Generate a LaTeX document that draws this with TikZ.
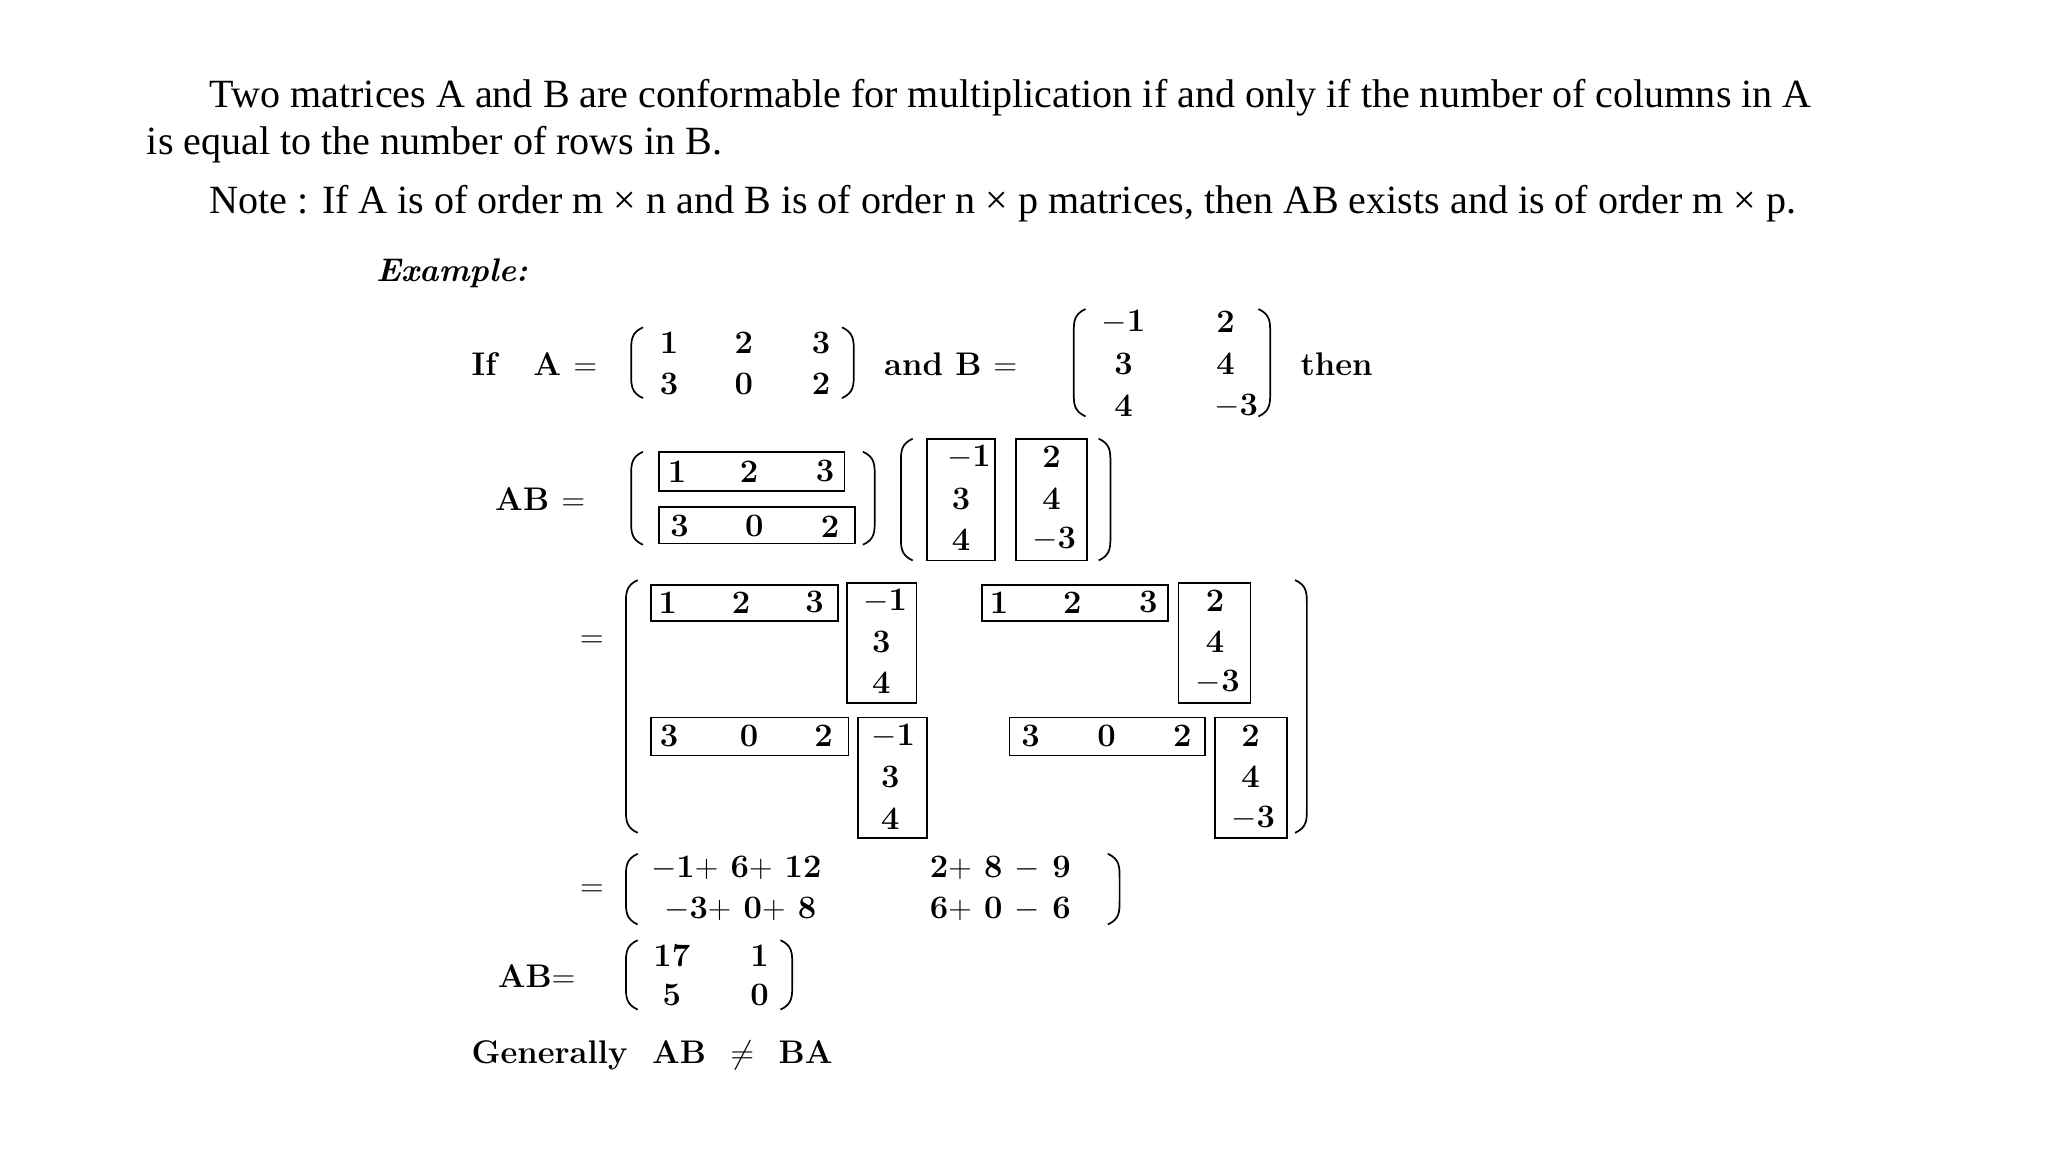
\documentclass[tikz,border=0pt]{standalone}
\usepackage{fontspec}
\newfontfamily\tnr{Liberation Serif}
\begin{document}
\begin{tikzpicture}[x=1pt,y=-1pt,
  txt/.style={anchor=base west,inner sep=0,font=\tnr\fontsize{30.6}{33}\selectfont},
  m/.style={inner sep=0,font=\bfseries\fontsize{25}{27}\selectfont},
  mw/.style={inner sep=0,anchor=west,font=\bfseries\fontsize{25}{27}\selectfont},
  bx/.style={draw,line width=1.3pt},
  pl/.style={line width=1.3pt},
]
\useasboundingbox (0,0) rectangle (1564,880);
\def\lp#1#2#3{\draw[pl] (#1+9,#2) .. controls (#1,#2+4) and (#1,#2+10) .. (#1,#2+18) -- (#1,#3-18) .. controls (#1,#3-10) and (#1,#3-4) .. (#1+9,#3);}
\def\rp#1#2#3{\draw[pl] (#1-9,#2) .. controls (#1,#2+4) and (#1,#2+10) .. (#1,#2+18) -- (#1,#3-18) .. controls (#1,#3-10) and (#1,#3-4) .. (#1-9,#3);}
% text
\node[txt] (t1) at (160,82) {Two matrices A and B are conformable for multiplication if and only if the number of columns in A};
\node[txt] (t2) at (112,118) {is equal to the number of rows in B.};
\node[txt] (t3) at (160,163) {Note : If A is of order m × n and B is of order n × p matrices, then AB exists and is of order m × p.};
\node[txt,font=\bfseries\itshape\fontsize{25}{28}\selectfont] (ex) at (287,215) {Example:};
% If A =
\node[mw] (ifa) at (360,278) {If\ \ \ A\ $=$};
\lp{482}{250}{304}\rp{652}{250}{304}
\node[m] at (511,262){1};\node[m] at (568,262){2};\node[m] at (627,262){3};
\node[m] at (511,293){3};\node[m] at (568,293){0};\node[m] at (627,293){2};
\node[mw] (andb) at (675,278) {and\ B\ $=$};
\lp{820}{236}{318}\rp{970}{236}{318}
\node[m] at (858,246){$-$1};\node[m] at (936,246){2};
\node[m] at (858,278){3};\node[m] at (936,278){4};
\node[m] at (858,310){4};\node[m] at (944,310){$-$3};
\node[mw] (then) at (993,278) {then};
% AB =
\node[mw] (ab1) at (378,381) {AB\ $=$};
\lp{482}{345}{416}\rp{668}{345}{416}
\draw[bx] (503,345) rectangle (645,375);
\node[m] at (517,360){1};\node[m] at (572,360){2};\node[m] at (630,360){3};
\draw[bx] (503,387) rectangle (653,415);
\node[m] at (519,402){3};\node[m] at (576,402){0};\node[m] at (634,402){2};
\lp{688}{335}{428}\rp{848}{335}{428}
\draw[bx] (708,335) rectangle (760,428);
\node[m] at (740,349){$-$1};\node[m] at (734,381){3};\node[m] at (734,412){4};
\draw[bx] (776,335) rectangle (830,428);
\node[m] at (803,349){2};\node[m] at (803,381){4};\node[m] at (805,412){$-$3};
% = big
\node[m] (eq1) at (452,490){$=$};
\lp{478}{443}{636}\rp{998}{443}{636}
\draw[bx] (497,447) rectangle (640,474);
\node[m] at (510,460){1};\node[m] at (566,460){2};\node[m] at (622,460){3};
\draw[bx] (647,445) rectangle (700,537);
\node[m] at (676,459){$-$1};\node[m] at (673,490){3};\node[m] at (673,521){4};
\draw[bx] (750,447) rectangle (892,474);
\node[m] at (763,460){1};\node[m] at (819,460){2};\node[m] at (877,460){3};
\draw[bx] (900,445) rectangle (955,537);
\node[m] at (928,459){2};\node[m] at (928,490){4};\node[m] at (930,521){$-$3};
\draw[bx] (497,548) rectangle (648,577);
\node[m] at (511,562){3};\node[m] at (572,562){0};\node[m] at (629,562){2};
\draw[bx] (655,548) rectangle (708,640);
\node[m] at (682,562){$-$1};\node[m] at (680,593){3};\node[m] at (680,625){4};
\draw[bx] (771,548) rectangle (920,577);
\node[m] at (787,562){3};\node[m] at (845,562){0};\node[m] at (903,562){2};
\draw[bx] (928,548) rectangle (983,640);
\node[m] at (955,562){2};\node[m] at (955,593){4};\node[m] at (957,625){$-$3};
% = sums
\node[m] (eq2) at (452,680){$=$};
\lp{478}{652}{706}\rp{855}{652}{706}
\node[mw] at (497,663){$-$1$+$\ 6$+$\ 12};\node[mw] at (710,663){2$+$\ 8\ $-$\ 9};
\node[mw] at (507,694){$-$3$+$\ 0$+$\ 8};\node[mw] at (710,694){6$+$\ 0\ $-$\ 6};
% result
\node[mw] (ab2) at (380,745) {AB$=$};
\lp{478}{718}{771}\rp{605}{718}{771}
\node[m] at (513,730){17};\node[m] at (580,730){1};
\node[m] at (513,760){5};\node[m] at (580,760){0};
\node[mw] (gen) at (360,806) {Generally\ \ AB\ \ $\neq$\ \ BA};
\end{tikzpicture}
\end{document}
